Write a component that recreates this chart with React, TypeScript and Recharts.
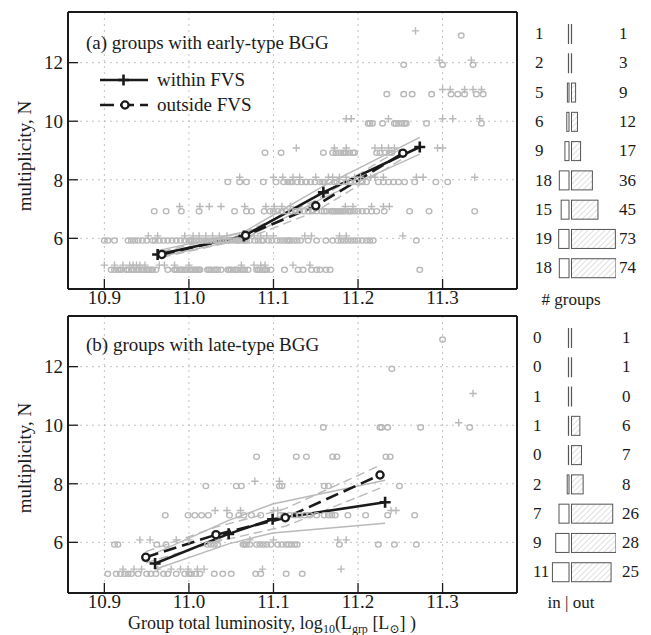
import React from 'react';
import {
  ComposedChart, Scatter, Line, XAxis, YAxis, CartesianGrid, BarChart, Bar, Legend,
} from 'recharts';

// ---------------- data ----------------
const multiplicities = [5, 6, 7, 8, 9, 10, 11, 12, 13];

// group luminosities (log10 L) of individual groups, one row per multiplicity N=5..13
const earlyWithinLum: number[][] = [
  [10.900, 10.912, 10.922, 10.930, 10.934, 10.938, 10.942, 10.948, 10.965, 10.971, 10.983, 11.000, 11.062, 11.077, 11.085, 11.090, 11.123, 11.143],
  [10.952, 10.963, 10.995, 11.005, 11.012, 11.020, 11.028, 11.036, 11.045, 11.060, 11.077, 11.085, 11.092, 11.100, 11.137, 11.145, 11.178, 11.186, 11.253],
  [10.989, 11.013, 11.024, 11.038, 11.066, 11.091, 11.101, 11.110, 11.120, 11.145, 11.185, 11.194, 11.216, 11.230, 11.237],
  [11.060, 11.100, 11.111, 11.123, 11.131, 11.150, 11.165, 11.170, 11.178, 11.186, 11.196, 11.203, 11.215, 11.220, 11.230, 11.269, 11.277, 11.338],
  [11.127, 11.172, 11.186, 11.220, 11.228, 11.236, 11.243, 11.294, 11.300],
  [11.186, 11.192, 11.236, 11.300, 11.312, 11.344],
  [11.300, 11.309, 11.326, 11.336, 11.346],
  [11.296, 11.334],
  [11.268],
];
const earlyOutsideLum: number[][] = [
  [10.908, 10.912, 10.916, 10.918, 10.920,
    10.926, 10.927, 10.929, 10.932, 10.933, 10.935, 10.938, 10.939, 10.941, 10.944, 10.945, 10.947, 10.950, 10.951, 10.953, 10.956, 10.957,
    10.961, 10.975,
    10.983, 10.984, 10.986, 10.989, 10.990, 10.992, 10.995, 10.996, 10.998, 11.001, 11.002, 11.004, 11.007, 11.008, 11.010, 11.012, 11.013,
    11.022, 11.024, 11.026, 11.030, 11.032, 11.034, 11.038,
    11.046, 11.048, 11.050, 11.054, 11.056, 11.058, 11.062, 11.064, 11.066, 11.070,
    11.080, 11.082, 11.084, 11.088, 11.090, 11.092, 11.097,
    11.113, 11.129, 11.135, 11.145, 11.151, 11.155, 11.162, 11.167,
    11.273],
  [10.900, 10.904, 10.912,
    10.928, 10.932, 10.936, 10.940, 10.945, 10.950, 10.957, 10.960,
    10.965, 10.970, 10.975, 10.980, 10.985, 10.990, 10.995,
    11.000, 11.002, 11.004, 11.008, 11.012, 11.016, 11.020, 11.024, 11.028, 11.032, 11.034, 11.036, 11.040, 11.044, 11.046, 11.048, 11.052, 11.056, 11.058, 11.060, 11.064, 11.066, 11.068, 11.072,
    11.078, 11.082, 11.086, 11.088, 11.094, 11.098, 11.104,
    11.108, 11.112, 11.116, 11.118, 11.120, 11.124, 11.128, 11.132, 11.141, 11.151,
    11.162, 11.170, 11.176, 11.180, 11.184, 11.188, 11.192, 11.196, 11.200, 11.205, 11.210, 11.214, 11.218,
    11.269],
  [10.959, 10.973, 10.991, 11.012, 11.054, 11.068, 11.074, 11.089, 11.096, 11.100, 11.105, 11.110, 11.115, 11.121, 11.126, 11.131, 11.136, 11.141, 11.146, 11.151,
    11.157, 11.160, 11.163, 11.168, 11.170, 11.172, 11.174, 11.176, 11.178, 11.180, 11.182, 11.184, 11.188, 11.190, 11.192, 11.196, 11.200, 11.205, 11.210, 11.216,
    11.222, 11.231, 11.261, 11.284, 11.338],
  [11.046, 11.060, 11.068, 11.088, 11.103, 11.112, 11.117, 11.120, 11.122, 11.128, 11.133, 11.138, 11.139, 11.144, 11.149, 11.155, 11.158, 11.160, 11.166, 11.172,
    11.175, 11.180, 11.186, 11.190, 11.198, 11.205, 11.210, 11.224, 11.230, 11.236, 11.242, 11.248, 11.255, 11.267, 11.292, 11.306],
  [11.090, 11.109, 11.159, 11.170, 11.174, 11.178, 11.182, 11.184, 11.186, 11.190, 11.194, 11.196, 11.222, 11.226, 11.232, 11.237, 11.240],
  [11.212, 11.214, 11.217, 11.229, 11.243, 11.245, 11.248, 11.252, 11.255, 11.257, 11.281, 11.346],
  [11.234, 11.254, 11.264, 11.287, 11.310, 11.318, 11.326, 11.340, 11.348],
  [11.254, 11.300, 11.336],
  [11.322],
];
const lateWithinLum: number[][] = [
  [10.922, 10.935, 10.944, 10.963, 10.979, 10.990, 10.999, 11.010, 11.018, 11.087, 11.180],
  [10.942, 10.954, 10.985, 11.000, 11.035, 11.072, 11.100, 11.176, 11.186],
  [11.031, 11.045, 11.061, 11.100, 11.105, 11.239, 11.245],
  [11.078, 11.107],
  [],
  [11.319],
  [11.336],
  [],
  [],
];
const lateOutsideLum: number[][] = [
  [10.904, 10.914, 10.919, 10.924, 10.928, 10.932, 10.940, 10.950, 10.955, 10.961, 10.970, 10.975, 10.985, 10.995, 11.000, 11.003, 11.008, 11.013, 11.030, 11.040, 11.050, 11.079, 11.085, 11.115, 11.134],
  [10.912, 10.916, 10.962, 10.973, 11.026, 11.034, 11.022, 11.030, 11.066, 11.088, 11.064, 11.068, 11.072, 11.080, 11.084, 11.092, 11.097, 11.105, 11.110, 11.115, 11.121, 11.125, 11.118, 11.128, 11.178, 11.224, 11.243, 11.269],
  [10.972, 10.999, 11.007, 11.015, 11.023, 11.048, 11.059, 11.065, 11.074, 11.085, 11.108, 11.112, 11.119, 11.125, 11.131, 11.137, 11.143, 11.151, 11.160, 11.165, 11.169, 11.173, 11.188, 11.209, 11.235, 11.267],
  [11.020, 11.056, 11.062, 11.107, 11.110, 11.160, 11.165, 11.249],
  [11.080, 11.127, 11.139, 11.170, 11.175, 11.233, 11.238],
  [11.159, 11.226, 11.228, 11.235, 11.274, 11.332],
  [],
  [11.240],
  [11.300],
];

// binned trends (luminosity, multiplicity) with their uncertainty envelopes
const earlyWithinTrendL = [10.963, 11.065, 11.159, 11.273];
const earlyWithinTrendN = [5.45, 6.08, 7.57, 9.12];
const earlyWithinUpperN = [5.58, 6.22, 7.78, 9.45];
const earlyWithinLowerN = [5.36, 5.98, 7.38, 8.88];
const earlyOutsideTrendL = [10.968, 11.067, 11.150, 11.253];
const earlyOutsideTrendN = [5.45, 6.10, 7.11, 8.91];
const earlyOutsideUpperN = [5.55, 6.22, 7.30, 9.10];
const earlyOutsideLowerN = [5.35, 5.98, 6.92, 8.72];

const lateWithinTrendL = [10.960, 11.047, 11.099, 11.232];
const lateWithinTrendN = [5.28, 6.29, 6.79, 7.37];
const lateWithinUpperN = [5.62, 6.75, 7.31, 8.12];
const lateWithinLowerN = [5.08, 5.95, 6.32, 6.65];
const lateOutsideTrendL = [10.949, 11.032, 11.114, 11.226];
const lateOutsideTrendN = [5.49, 6.26, 6.84, 8.30];
const lateOutsideUpperN = [5.68, 6.52, 7.15, 8.63];
const lateOutsideLowerN = [5.30, 6.02, 6.55, 7.85];

// histogram of group counts, rows N = 13 .. 5 (top to bottom)
const histRows = [13, 12, 11, 10, 9, 8, 7, 6, 5];
const earlyInCounts = [1, 2, 5, 6, 9, 18, 15, 19, 18];
const earlyOutCounts = [1, 3, 9, 12, 17, 36, 45, 73, 74];
const lateInCounts = [0, 0, 1, 1, 0, 2, 7, 9, 11];
const lateOutCounts = [1, 1, 0, 6, 7, 8, 26, 28, 25];

const xTicks = [10.9, 11.0, 11.1, 11.2, 11.3];
const yTicks = [6, 8, 10, 12];
const X_DOMAIN: [number, number] = [10.857, 11.388];
const Y_DOMAIN: [number, number] = [4.27, 13.73];

// ---------------- helpers ----------------
const FONT = "'Liberation Serif', 'DejaVu Serif', 'Noto Serif', 'Times New Roman', Times, serif";
const INK = '#1a1a1a';
const GREY = '#b9b9b9';
const BAR_EDGE = '#555';

const toPoints = (rows: number[][]) =>
  rows.flatMap((row, i) => row.map((lum) => ({ x: lum, y: multiplicities[i] })));
const toLine = (ls: number[], ns: number[]) => ls.map((l, i) => ({ x: l, y: ns[i] }));

const PlusMark = (p: any) => {
  const { cx, cy } = p;
  if (cx == null || cy == null) return <g />;
  const y = cy - 2.5;
  return <path d={`M${cx - 3.7},${y}H${cx + 3.7}M${cx},${y - 3.7}V${y + 3.7}`} stroke={GREY} strokeWidth={1.4} fill="none" />;
};
const RingMark = (p: any) => {
  const { cx, cy } = p;
  if (cx == null || cy == null) return <g />;
  return <ellipse cx={cx} cy={cy + 2.2} rx={2.8} ry={2.6} stroke={GREY} strokeWidth={1.4} fill="none" />;
};
const blackPlus = (p: any) => {
  const { cx, cy, index } = p;
  return <path key={`bp${index}`} d={`M${cx - 5.5},${cy}H${cx + 5.5}M${cx},${cy - 5.5}V${cy + 5.5}`} stroke={INK} strokeWidth={2.6} fill="none" />;
};
const blackRing = (p: any) => {
  const { cx, cy, index } = p;
  return <circle key={`br${index}`} cx={cx} cy={cy} r={3.6} stroke={INK} strokeWidth={2.3} fill="#fff" />;
};

type Pt = { x: number; y: number };
type PanelProps = {
  top: number;
  within: Pt[];
  outside: Pt[];
  wTrend: Pt[];
  wUp: Pt[];
  wLo: Pt[];
  oTrend: Pt[];
  oUp: Pt[];
  oLo: Pt[];
  xLabelMargin: number;
  legend?: boolean;
};

const LegendBox = () => (
  <div style={{ fontFamily: FONT, fontSize: 19, color: INK, lineHeight: '25px' }}>
    <div style={{ display: 'flex', alignItems: 'center', height: 25 }}>
      <svg width={52} height={16}>
        <line x1={2} y1={8} x2={50} y2={8} stroke={INK} strokeWidth={2.5} />
        <path d="M20,8H31M25.5,2.5V13.5" stroke={INK} strokeWidth={2.6} fill="none" />
      </svg>
      <span style={{ marginLeft: 7 }}>within FVS</span>
    </div>
    <div style={{ display: 'flex', alignItems: 'center', height: 25 }}>
      <svg width={52} height={16}>
        <line x1={2} y1={8} x2={50} y2={8} stroke={INK} strokeWidth={2.5} strokeDasharray="14 6" />
        <circle cx={27} cy={8} r={3.6} stroke={INK} strokeWidth={2.3} fill="#fff" />
      </svg>
      <span style={{ marginLeft: 7 }}>outside FVS</span>
    </div>
  </div>
);

const axisStroke = { stroke: INK, strokeWidth: 2 };
const tickStroke = { stroke: INK, strokeWidth: 1.3 };
const tickText = { fill: INK, fontSize: 19, fontFamily: FONT };

function Panel(props: PanelProps) {
  const { top, within, outside, wTrend, wUp, wLo, oTrend, oUp, oLo, xLabelMargin, legend } = props;
  return (
    <div style={{ position: 'absolute', left: 0, top, width: 520, height: 319 }}>
      <ComposedChart width={520} height={319} margin={{ top: 11, right: 2, bottom: 0, left: 0 }}>
        <CartesianGrid stroke="#c2c2c2" strokeDasharray="2 4" strokeWidth={1} />
        <XAxis type="number" dataKey="x" domain={X_DOMAIN} ticks={xTicks} allowDataOverflow height={30}
          tickSize={-10} tickMargin={xLabelMargin} axisLine={axisStroke} tickLine={tickStroke} tick={tickText}
          tickFormatter={(v: number) => v.toFixed(1)} />
        <XAxis xAxisId="top" orientation="top" type="number" domain={X_DOMAIN} ticks={xTicks} allowDataOverflow height={1}
          tickSize={-10} axisLine={axisStroke} tickLine={tickStroke} tick={false} />
        <YAxis type="number" dataKey="y" domain={Y_DOMAIN} ticks={yTicks} allowDataOverflow width={68}
          tickSize={-10} tickMargin={15} axisLine={axisStroke} tickLine={tickStroke} tick={tickText} />
        <YAxis yAxisId="right" orientation="right" type="number" domain={Y_DOMAIN} ticks={yTicks} allowDataOverflow width={1}
          tickSize={-10} axisLine={axisStroke} tickLine={tickStroke} tick={false} />
        <Scatter name="outside pts" data={outside} shape={RingMark} isAnimationActive={false} legendType="none" />
        <Scatter name="within pts" data={within} shape={PlusMark} isAnimationActive={false} legendType="none" />
        <Line data={wUp} dataKey="y" stroke={GREY} strokeWidth={1.4} dot={false} isAnimationActive={false} legendType="none" />
        <Line data={wLo} dataKey="y" stroke={GREY} strokeWidth={1.4} dot={false} isAnimationActive={false} legendType="none" />
        <Line data={oUp} dataKey="y" stroke={GREY} strokeWidth={1.4} strokeDasharray="9 5" dot={false} isAnimationActive={false} legendType="none" />
        <Line data={oLo} dataKey="y" stroke={GREY} strokeWidth={1.4} strokeDasharray="9 5" dot={false} isAnimationActive={false} legendType="none" />
        <Line name="within FVS" data={wTrend} dataKey="y" stroke={INK} strokeWidth={2.6} dot={blackPlus} isAnimationActive={false} />
        <Line name="outside FVS" data={oTrend} dataKey="y" stroke={INK} strokeWidth={2.6} strokeDasharray="13 6" dot={blackRing} isAnimationActive={false} />
        {legend && (
          <Legend layout="vertical" align="center" verticalAlign="middle"
            wrapperStyle={{ position: 'absolute', left: 98, top: 67, width: 220, height: 50 }}
            content={() => <LegendBox />} />
        )}
      </ComposedChart>
    </div>
  );
}

const InBar = (p: any) => {
  const { x, y, width, height } = p;
  const l = Math.min(x, x + width);
  const r = Math.max(x, x + width) - 1;
  if (r - l < 1.5) {
    return <line x1={r - 0.5} x2={r - 0.5} y1={y} y2={y + height} stroke={BAR_EDGE} strokeWidth={1.2} />;
  }
  return <rect x={l + 0.5} y={y + 0.5} width={r - l - 0.5} height={height - 1} fill="#fff" stroke={BAR_EDGE} strokeWidth={1} />;
};
const OutBar = (p: any) => {
  const { x, y, width, height } = p;
  const l = Math.min(x, x + width) + 1;
  const r = Math.max(x, x + width);
  if (r - l < 1.5) {
    return <line x1={l + 0.5} x2={l + 0.5} y1={y} y2={y + height} stroke={BAR_EDGE} strokeWidth={1.2} />;
  }
  return <rect x={l + 0.5} y={y + 0.5} width={r - l - 0.5} height={height - 1} fill="url(#hatch)" stroke={BAR_EDGE} strokeWidth={1} />;
};

function Histogram({ top, inCounts, outCounts, leftX, rightX }: { top: number; inCounts: number[]; outCounts: number[]; leftX: number; rightX: number }) {
  const rows = histRows.map((n, i) => ({ n, inNeg: -inCounts[i], out: outCounts[i] }));
  const max = Math.max(...inCounts, ...outCounts);
  const tick = (t: any) => {
    const i = t.index ?? t.payload?.index ?? 0;
    return (
      <g key={`t${i}`}>
        <text x={leftX} y={t.y} dominantBaseline="central" fontFamily={FONT} fontSize={17} fill={INK}>{inCounts[i]}</text>
        <text x={rightX} y={t.y} dominantBaseline="central" fontFamily={FONT} fontSize={17} fill={INK}>{outCounts[i]}</text>
      </g>
    );
  };
  return (
    <div style={{ position: 'absolute', left: 510, top, width: 140, height: 263.5 }}>
      <BarChart layout="vertical" width={140} height={263.5} data={rows} stackOffset="sign" barSize={20}
        margin={{ top: 0, right: 34, bottom: 0, left: 0 }}>
        <XAxis type="number" domain={[-max, max]} allowDataOverflow hide />
        <YAxis type="category" dataKey="n" width={14} axisLine={false} tickLine={false} interval={0} tick={tick} />
        <Bar dataKey="inNeg" stackId="s" shape={InBar} isAnimationActive={false} />
        <Bar dataKey="out" stackId="s" shape={OutBar} isAnimationActive={false} />
      </BarChart>
    </div>
  );
}

export default function App() {
  return (
    <div style={{ position: 'absolute', left: 0, top: 0, width: 651, height: 635, background: '#fff', fontFamily: FONT }}>
      <svg width={0} height={0} style={{ position: 'absolute' }}>
        <defs>
          <pattern id="hatch" patternUnits="userSpaceOnUse" width={4} height={4} patternTransform="rotate(45)">
            <line x1={0} y1={0} x2={0} y2={4} stroke="#b8b8b8" strokeWidth={0.9} />
          </pattern>
        </defs>
      </svg>
      <Panel top={0} within={toPoints(earlyWithinLum)} outside={toPoints(earlyOutsideLum)}
        wTrend={toLine(earlyWithinTrendL, earlyWithinTrendN)} wUp={toLine(earlyWithinTrendL, earlyWithinUpperN)} wLo={toLine(earlyWithinTrendL, earlyWithinLowerN)}
        oTrend={toLine(earlyOutsideTrendL, earlyOutsideTrendN)} oUp={toLine(earlyOutsideTrendL, earlyOutsideUpperN)} oLo={toLine(earlyOutsideTrendL, earlyOutsideLowerN)}
        xLabelMargin={12} legend />
      <Panel top={304} within={toPoints(lateWithinLum)} outside={toPoints(lateOutsideLum)}
        wTrend={toLine(lateWithinTrendL, lateWithinTrendN)} wUp={toLine(lateWithinTrendL, lateWithinUpperN)} wLo={toLine(lateWithinTrendL, lateWithinLowerN)}
        oTrend={toLine(lateOutsideTrendL, lateOutsideTrendN)} oUp={toLine(lateOutsideTrendL, lateOutsideUpperN)} oLo={toLine(lateOutsideTrendL, lateOutsideLowerN)}
        xLabelMargin={12} />
      <Histogram top={18.73} inCounts={earlyInCounts} outCounts={earlyOutCounts} leftX={25} rightX={109} />
      <Histogram top={322.73} inCounts={lateInCounts} outCounts={lateOutCounts} leftX={23} rightX={112} />
      <svg width={651} height={635} style={{ position: 'absolute', left: 0, top: 0, pointerEvents: 'none' }}>
        <g fontFamily={FONT} fill={INK}>
          <text x={86} y={49} fontSize={19}>(a) groups with early-type BGG</text>
          <text x={86} y={351} fontSize={19}>(b) groups with late-type BGG</text>
          <text transform="translate(31,156) rotate(-90)" textAnchor="middle" fontSize={19}>multiplicity, N</text>
          <text transform="translate(31,458) rotate(-90)" textAnchor="middle" fontSize={19}>multiplicity, N</text>
          <text x={571} y={305} textAnchor="middle" fontSize={17}># groups</text>
          <text x={571} y={608} textAnchor="middle" fontSize={17}>in | out</text>
          <text x={272} y={629} textAnchor="middle" fontSize={18}>
            Group total luminosity, log<tspan fontSize={12} dy={4}>10</tspan>
            <tspan dy={-4}>(L</tspan><tspan fontSize={12} dy={4}>grp</tspan>
            <tspan dy={-4}> [L</tspan><tspan fontSize={12} dy={4}>⊙</tspan>
            <tspan dy={-4}>] )</tspan>
          </text>
        </g>
      </svg>
    </div>
  );
}
